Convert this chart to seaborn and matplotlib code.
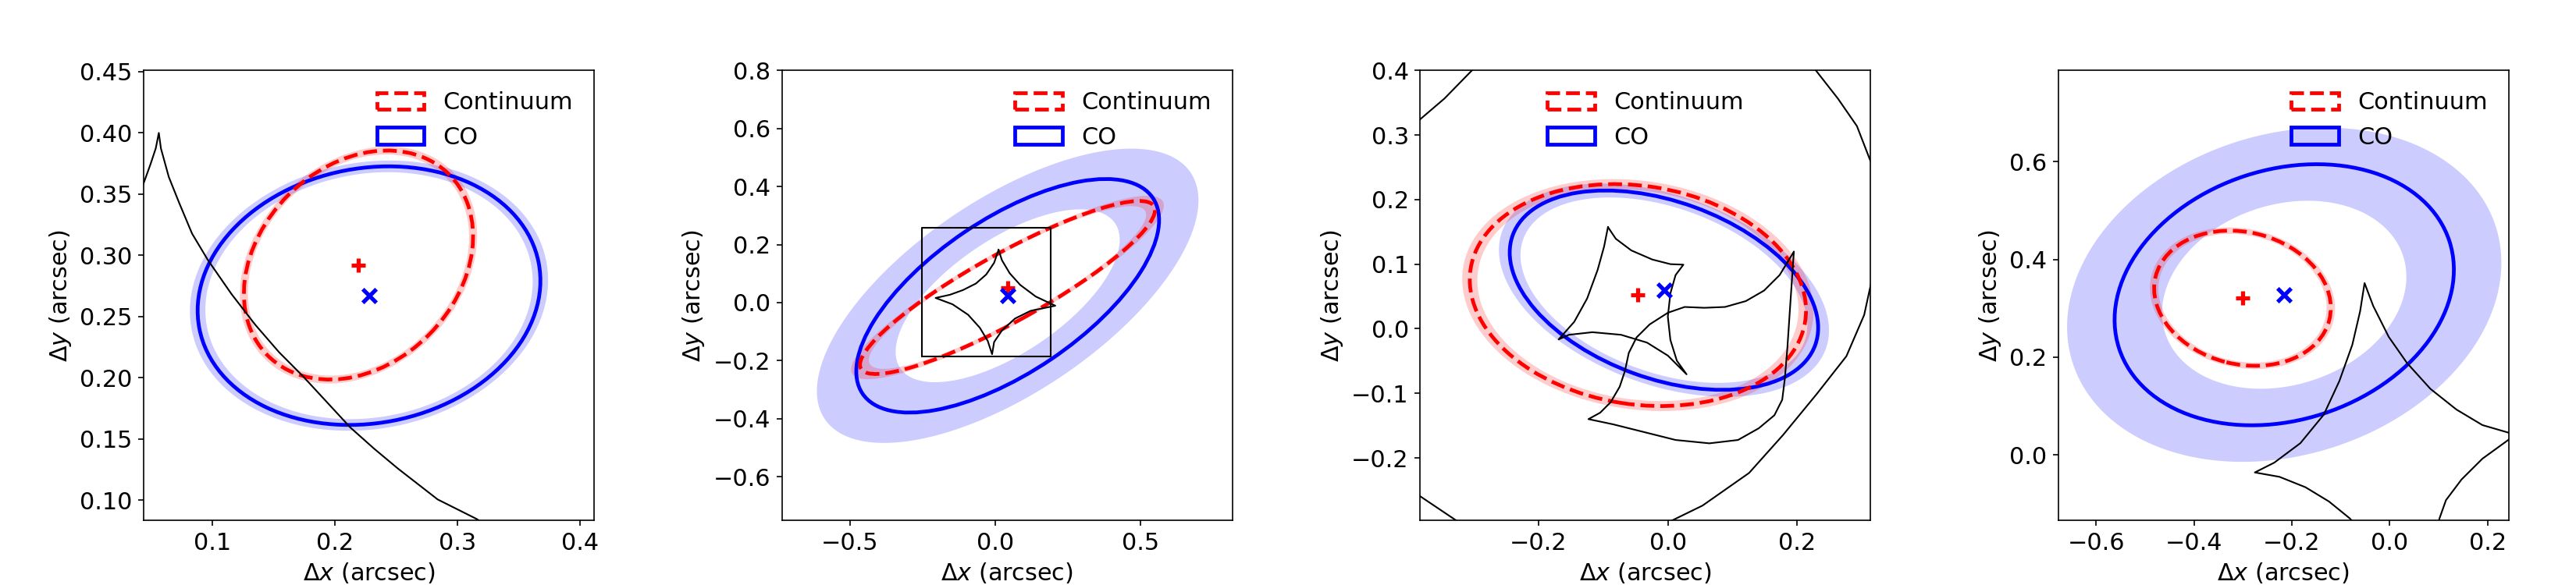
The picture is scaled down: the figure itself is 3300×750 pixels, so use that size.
import numpy as np
import matplotlib
matplotlib.use("Agg")
import matplotlib.pyplot as plt
from matplotlib.patches import Ellipse, PathPatch, Patch
from matplotlib.path import Path
from matplotlib.transforms import Affine2D
from matplotlib.ticker import MultipleLocator
import seaborn as sns

# ----- Dados (arcsec) -----
# Limites e passo dos ticks de cada painel
xlims = [(0.0441, 0.4116), (-0.7347, 0.8164), (-0.3832, 0.3137), (-0.6776, 0.2431)]
ylims = [(0.0834, 0.4509), (-0.751, 0.800), (-0.297, 0.400), (-0.134, 0.7867)]
xstep = [0.1, 0.5, 0.2, 0.2]
ystep = [0.05, 0.2, 0.1, 0.2]
legend_loc = ["upper right", "upper right", "upper center", "upper right"]

# Continuum: centro, semi-eixos, angulo (graus) e incerteza relativa do tamanho
cont_x = [0.2194, 0.042, -0.0463, -0.301]
cont_y = [0.292, 0.052, 0.0521, 0.3207]
cont_a = [0.1046, 0.577, 0.262, 0.183]
cont_b = [0.0809, 0.118, 0.169, 0.135]
cont_ang = [45, 29, -9, -14]
cont_err = [0.035, 0.06, 0.045, 0.048]

# CO
co_x = [0.228, 0.0427, -0.006, -0.2156]
co_y = [0.267, 0.0234, 0.0597, 0.3278]
co_a = [0.141, 0.603, 0.249, 0.355]
co_b = [0.104, 0.265, 0.137, 0.256]
co_ang = [11, 34, -20, 18]
co_err = [0.045, 0.26, 0.07, 0.28]

# Causticas (segmentos x, y) de cada painel
caustic1 = [
    ([0.040, 0.0445, 0.0498, 0.054, 0.0565, 0.0582, 0.0646, 0.073, 0.0836, 0.0964,
      0.1158, 0.1352, 0.1546, 0.174, 0.1934, 0.2128, 0.2322, 0.2516, 0.284, 0.3163, 0.325],
     [0.347, 0.3599, 0.3746, 0.3873, 0.3999, 0.3873, 0.364, 0.343, 0.3177, 0.2963,
      0.2683, 0.2432, 0.2208, 0.2013, 0.1803, 0.1593, 0.142, 0.1258, 0.1006, 0.0844, 0.078]),
]
caustic2 = [
    ([0.0113, -0.004, -0.031, -0.0667, -0.1115, -0.156, -0.2056, -0.147, -0.0935, -0.053,
      -0.026, -0.011, -0.004, 0.023, 0.068, 0.1215, 0.2067, 0.1395, 0.0857, 0.0497, 0.0229, 0.0113],
     [0.182, 0.137, 0.097, 0.0656, 0.043, 0.027, 0.016, -0.006, -0.042, -0.087,
      -0.132, -0.178, -0.136, -0.096, -0.055, -0.0285, -0.0108, 0.0207, 0.061, 0.101, 0.146, 0.182]),
    # caixa
    ([-0.253, 0.190, 0.190, -0.253, -0.253], [-0.186, -0.186, 0.257, 0.257, -0.186]),
]
caustic3 = [
    ([-0.0926, -0.0805, -0.0564, -0.0241, 0.004, 0.0241, 0.012, 0.004, 0.0, 0.004, 0.014, 0.029,
      0.0, -0.0322, -0.0724, -0.1167, -0.1529, -0.169, -0.1448, -0.1248, -0.1086, -0.0986, -0.0926],
     [0.1574, 0.1393, 0.1212, 0.1072, 0.1, 0.0992, 0.0831, 0.0549, 0.0187, -0.0175, -0.0496, -0.0706,
      -0.0416, -0.0215, -0.0094, -0.0054, -0.0094, -0.0166, 0.0107, 0.0469, 0.0911, 0.1273, 0.1574]),
    ([0.195, 0.173, 0.1488, 0.1207, 0.0885, 0.0563, 0.0261, 0.0, -0.0282, -0.0483, -0.0604,
      -0.0664, -0.0745, -0.0886, -0.1046, -0.1228, -0.0845, -0.0362, 0.012, 0.0643, 0.1086,
      0.1407, 0.1649, 0.177, 0.181, 0.185, 0.189, 0.1931, 0.195],
     [0.1193, 0.0831, 0.059, 0.0428, 0.0337, 0.0324, 0.0337, 0.0247, 0.0066, -0.0134, -0.0375,
      -0.0657, -0.0899, -0.114, -0.13, -0.14, -0.1481, -0.1602, -0.1723, -0.1775, -0.1723,
      -0.1542, -0.134, -0.11, -0.0778, -0.0296, 0.0308, 0.0911, 0.1193]),
    ([-0.40, -0.383, -0.3457, -0.3031, -0.28], [0.31, 0.3245, 0.3564, 0.4, 0.42]),
    ([0.215, 0.2291, 0.2632, 0.2926, 0.3142, 0.32], [0.42, 0.4, 0.3564, 0.3138, 0.258, 0.235]),
    ([0.32, 0.3142, 0.3038, 0.2763, 0.2304, 0.178, 0.1257, 0.0537, 0.0046, -0.01],
     [0.09, 0.0691, 0.0213, -0.0426, -0.1011, -0.1649, -0.2234, -0.2739, -0.2979, -0.31]),
    ([-0.40, -0.383, -0.326, -0.31], [-0.245, -0.2596, -0.2979, -0.31]),
]
caustic4 = [
    ([-0.068, -0.0817, -0.1242, -0.1721, -0.2252, -0.2757, -0.2359, -0.1826, -0.1348, -0.1029,
      -0.0764, -0.0604, -0.0514, -0.0338, -0.0019, 0.0352, 0.0831, 0.1364, 0.1895, 0.2442, 0.26],
     [-0.145, -0.1296, -0.0951, -0.066, -0.0447, -0.0357, -0.0156, 0.0242, 0.0825, 0.1513,
      0.2256, 0.2944, 0.3517, 0.3051, 0.2415, 0.1884, 0.1354, 0.093, 0.0612, 0.0453, 0.042]),
    ([0.26, 0.2442, 0.1895, 0.1469, 0.115, 0.1018, 0.098],
     [0.022, 0.0321, -0.0076, -0.05, -0.0924, -0.1296, -0.145]),
]
caustics = [caustic1, caustic2, caustic3, caustic4]

# ----- Estilo -----
sns.set_style("ticks", {"axes.edgecolor": "black", "xtick.color": "black",
                        "ytick.color": "black", "text.color": "black",
                        "axes.labelcolor": "black"})
plt.rcParams["font.family"] = ["DejaVu Sans"]
plt.rcParams["font.size"] = 14.5
plt.rcParams["xtick.labelsize"] = 14.5
plt.rcParams["ytick.labelsize"] = 14.5
plt.rcParams["axes.labelsize"] = 14.5


def anel(ax, cx, cy, a, b, ang, err, cor):
    # faixa de incerteza entre a elipse reduzida e a ampliada
    t = np.linspace(0, 2 * np.pi, 361)
    circ = np.column_stack([np.cos(t), np.sin(t)])
    fora = Affine2D().scale(a * (1 + err), b * (1 + err)).rotate_deg(ang).translate(cx, cy).transform(circ)
    dentro = Affine2D().scale(a * (1 - err), b * (1 - err)).rotate_deg(ang).translate(cx, cy).transform(circ)[::-1]
    n = len(t)
    codes = [Path.MOVETO] + [Path.LINETO] * (n - 1)
    path = Path(np.vstack([fora, dentro]), codes + codes)
    ax.add_patch(PathPatch(path, facecolor=cor, edgecolor="none", alpha=0.2, zorder=1))


fig = plt.figure(figsize=(22, 5), dpi=150)
lefts = [184, 1001.7, 1819.3, 2636.7]

for i in range(4):
    ax = fig.add_axes([lefts[i] / 3300, 82.7 / 750, 577 / 3300, 577 / 750])

    # faixas de incerteza
    anel(ax, co_x[i], co_y[i], co_a[i], co_b[i], co_ang[i], co_err[i], "blue")
    anel(ax, cont_x[i], cont_y[i], cont_a[i], cont_b[i], cont_ang[i], cont_err[i], "red")

    # elipses
    ax.add_patch(Ellipse((co_x[i], co_y[i]), 2 * co_a[i], 2 * co_b[i], angle=co_ang[i],
                         fill=False, edgecolor="blue", lw=2.3, zorder=2))
    ax.add_patch(Ellipse((cont_x[i], cont_y[i]), 2 * cont_a[i], 2 * cont_b[i], angle=cont_ang[i],
                         fill=False, edgecolor="red", lw=2.3, ls="--", zorder=2.1))

    # causticas
    for cx, cy in caustics[i]:
        sns.lineplot(x=cx, y=cy, sort=False, estimator=None, color="black", lw=1.0,
                     ax=ax, zorder=3)

    # centros
    sns.scatterplot(x=[cont_x[i]], y=[cont_y[i]], marker="+", color="red", s=70,
                    linewidth=2.5, ax=ax, zorder=4)
    sns.scatterplot(x=[co_x[i]], y=[co_y[i]], marker="x", color="blue", s=70,
                    linewidth=2.5, ax=ax, zorder=4)

    ax.set_xlim(*xlims[i])
    ax.set_ylim(*ylims[i])
    ax.xaxis.set_major_locator(MultipleLocator(xstep[i]))
    ax.yaxis.set_major_locator(MultipleLocator(ystep[i]))
    ax.set_xlabel(r"$\Delta x$ (arcsec)")
    ax.set_ylabel(r"$\Delta y$ (arcsec)")

    handles = [Patch(facecolor="none", edgecolor="red", ls="--", lw=2.3, label="Continuum"),
               Patch(facecolor="none", edgecolor="blue", lw=2.3, label="CO")]
    ax.legend(handles=handles, loc=legend_loc[i], frameon=False, fontsize=14.5)

fig.savefig("out.png", dpi=150)
